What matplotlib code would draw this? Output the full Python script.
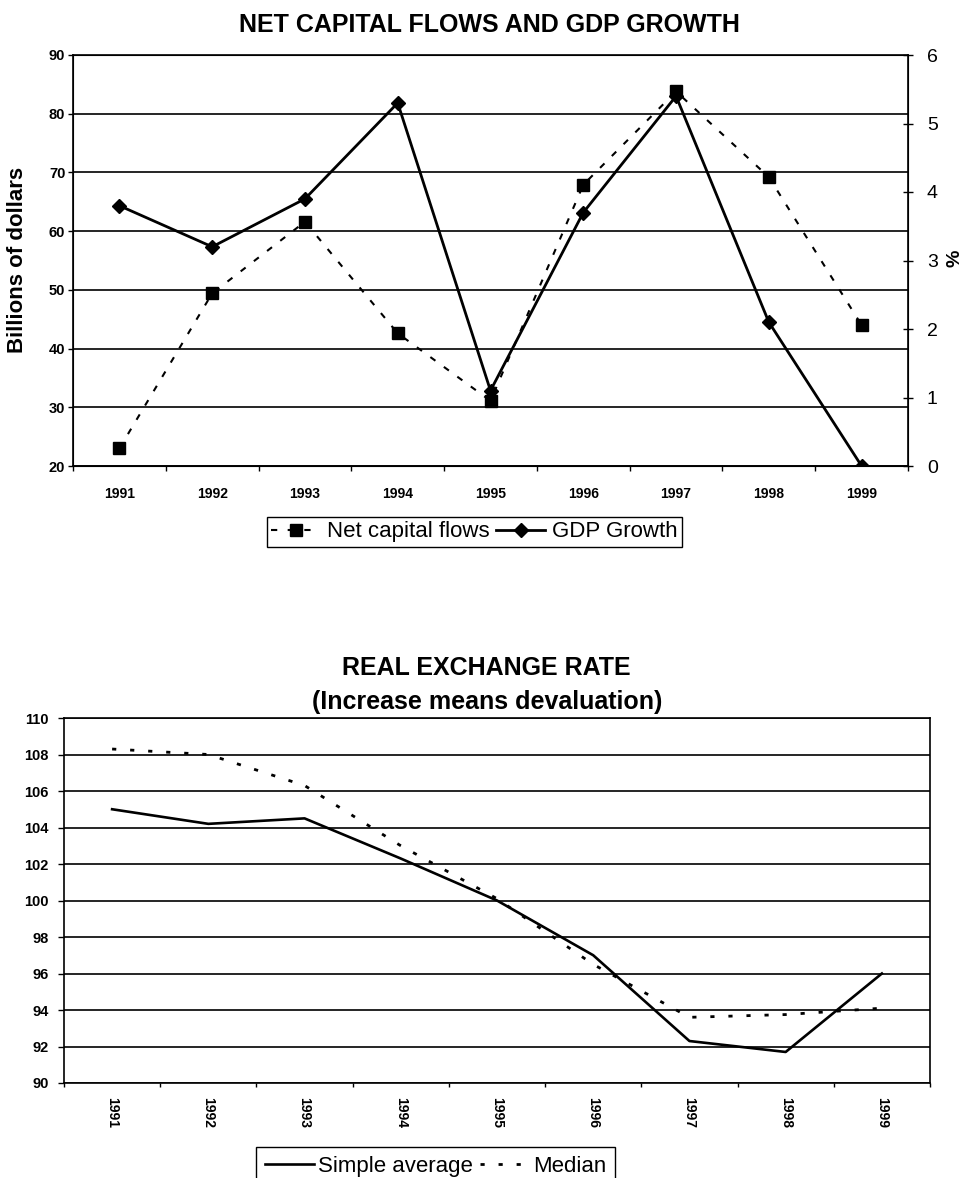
import numpy as np
import matplotlib
matplotlib.use('Agg')
import matplotlib.pyplot as plt

plt.rcParams['font.family'] = ['Liberation Sans', 'DejaVu Sans']

years = ['1991', '1992', '1993', '1994', '1995', '1996', '1997', '1998', '1999']

# billions of dollars (left axis) and % (right axis)
net_capital_flows = [23.0, 49.4, 61.6, 42.6, 31.1, 67.9, 83.8, 69.2, 44.0]
gdp_growth = [3.8, 3.2, 3.9, 5.3, 1.1, 3.7, 5.4, 2.1, 0.0]

# real exchange rate index
simple_average = [105.0, 104.2, 104.5, 102.3, 100.0, 97.0, 92.3, 91.7, 96.0]
median = [108.3, 108.0, 106.3, 103.0, 100.1, 96.5, 93.6, 93.75, 94.1]

W, H = 967, 1178
fig = plt.figure(figsize=(W / 100, H / 100), dpi=100)
x = np.arange(len(years))


def fx(px):
    return px / W


def fy(py):
    return 1 - py / H


# ---- top chart: net capital flows and GDP growth ----
ax1 = fig.add_axes([fx(73), fy(466), fx(908) - fx(73), fy(55) - fy(466)])
ax1.set_xlim(-0.5, 8.5)
ax1.set_ylim(20, 90)
ax1.set_yticks(range(20, 91, 10))
ax1.set_xticks(x)
ax1.set_xticklabels(years, fontsize=10, fontweight='bold')
ax1.set_xticks(np.arange(-0.5, 9, 1), minor=True)
ax1.tick_params(axis='x', which='major', length=0, pad=15)
ax1.tick_params(axis='x', which='minor', length=3.5, width=1, direction='out')
ax1.tick_params(axis='y', length=3.5, width=1, pad=2, labelsize=10.5)
for lab in ax1.get_yticklabels():
    lab.set_fontweight('bold')
ax1.grid(axis='y', color='black', linewidth=1.2)
ax1.set_axisbelow(True)
for s in ax1.spines.values():
    s.set_linewidth(1.2)

l1, = ax1.plot(x, net_capital_flows, color='black', linewidth=1.5,
               linestyle=(0, (3, 5)), marker='s', markersize=9,
               label='Net capital flows')

ax2 = ax1.twinx()
ax2.set_ylim(0, 6)
ax2.set_yticks(range(0, 7))
ax2.tick_params(axis='y', direction='inout', length=7, width=1, pad=10, labelsize=14)
l2, = ax2.plot(x, gdp_growth, color='black', linewidth=2, marker='D', markersize=7,
               label='GDP Growth')

fig.text(fx(489), fy(25), 'NET CAPITAL FLOWS AND GDP GROWTH', ha='center', va='center',
         fontsize=18, fontweight='bold')
fig.text(fx(18), fy(260), 'Billions of dollars', ha='center', va='center', rotation=90,
         fontsize=16, fontweight='bold')
fig.text(fx(955), fy(258), '%', ha='center', va='center', rotation=90,
         fontsize=14, fontweight='bold')

leg1 = fig.legend(handles=[l1, l2], loc='upper left', bbox_to_anchor=(fx(267), fy(517)),
                  ncol=2, fontsize=16, frameon=True, fancybox=False, framealpha=1,
                  edgecolor='black', handlelength=2.2, handletextpad=0.3,
                  columnspacing=0.3, borderpad=0.2, borderaxespad=0)
leg1.get_frame().set_linewidth(1)

# ---- bottom chart: real exchange rate ----
ax3 = fig.add_axes([fx(64), fy(1083), fx(930) - fx(64), fy(718) - fy(1083)])
ax3.set_xlim(-0.5, 8.5)
ax3.set_ylim(90, 110)
ax3.set_yticks(range(90, 111, 2))
ax3.set_xticks(x)
ax3.set_xticklabels(years, fontsize=10, fontweight='bold', rotation=270)
ax3.set_xticks(np.arange(-0.5, 9, 1), minor=True)
ax3.tick_params(axis='x', which='major', length=0, pad=10)
ax3.tick_params(axis='x', which='minor', length=3, width=1, direction='out')
ax3.tick_params(axis='y', length=4, width=1, pad=7, labelsize=10.5)
for lab in ax3.get_yticklabels():
    lab.set_fontweight('bold')
ax3.grid(axis='y', color='black', linewidth=1.2)
ax3.set_axisbelow(True)
for s in ax3.spines.values():
    s.set_linewidth(1.2)

l3, = ax3.plot(x, simple_average, color='black', linewidth=1.9, label='Simple average')
l4, = ax3.plot(x, median, color='black', linewidth=2, linestyle=(0, (1.5, 5)),
               label='Median')

fig.text(fx(486), fy(668), 'REAL EXCHANGE RATE', ha='center', va='center',
         fontsize=18, fontweight='bold')
fig.text(fx(487), fy(702), '(Increase means devaluation)', ha='center', va='center',
         fontsize=18, fontweight='bold')

leg2 = fig.legend(handles=[l3, l4], loc='upper left', bbox_to_anchor=(fx(256), fy(1147)),
                  ncol=2, fontsize=16, frameon=True, fancybox=False, framealpha=1,
                  edgecolor='black', handlelength=2.2, handletextpad=0.2,
                  columnspacing=0.3, borderpad=0.4, borderaxespad=0)
leg2.get_frame().set_linewidth(1)

fig.savefig('out.png', dpi=100)
